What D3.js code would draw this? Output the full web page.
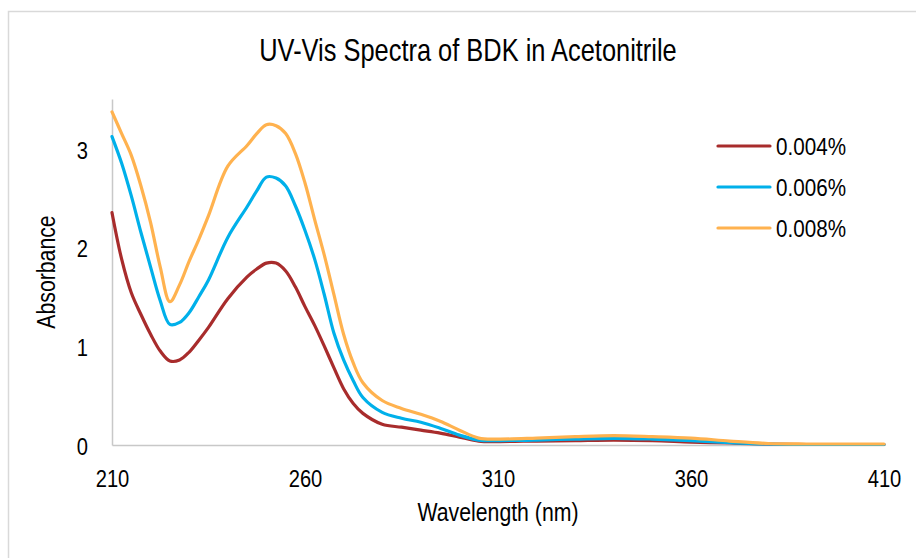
<!DOCTYPE html>
<html>
<head>
<meta charset="utf-8">
<script src="https://cdn.jsdelivr.net/npm/d3@7/dist/d3.min.js"></script>
<style>
  html, body { margin: 0; padding: 0; background: #fff; }
  svg { display: block; }
  text { font-family: "Liberation Sans", Arial, sans-serif; fill: #000; }
</style>
</head>
<body>
<svg id="chart" width="916" height="558"></svg>
<script>
const wavelengths = [210, 212.5, 215, 217.5, 220, 222.5, 225, 227.5, 230, 232.5, 235, 240, 245, 247.5, 250, 252.5, 255, 257.5, 260, 262.5, 265, 267.5, 270, 272.5, 275, 280, 285, 290, 295, 300, 305, 310, 320, 330, 340, 350, 360, 370, 380, 390, 400, 410];
const series004 = [2.35, 1.88, 1.54, 1.32, 1.12, 0.95, 0.85, 0.86, 0.94, 1.06, 1.19, 1.48, 1.70, 1.78, 1.84, 1.84, 1.76, 1.60, 1.40, 1.21, 1.00, 0.78, 0.57, 0.42, 0.32, 0.21, 0.18, 0.15, 0.12, 0.08, 0.04, 0.035, 0.04, 0.045, 0.05, 0.045, 0.03, 0.02, 0.01, 0.005, 0.005, 0.005];
const series006 = [3.12, 2.85, 2.52, 2.15, 1.80, 1.46, 1.22, 1.24, 1.34, 1.50, 1.67, 2.10, 2.41, 2.57, 2.71, 2.70, 2.62, 2.42, 2.17, 1.88, 1.52, 1.13, 0.86, 0.65, 0.48, 0.33, 0.27, 0.23, 0.17, 0.10, 0.05, 0.045, 0.05, 0.06, 0.068, 0.06, 0.045, 0.025, 0.01, 0.005, 0.005, 0.005];
const series008 = [3.37, 3.15, 2.93, 2.62, 2.25, 1.80, 1.45, 1.62, 1.86, 2.08, 2.32, 2.82, 3.03, 3.15, 3.24, 3.23, 3.15, 2.95, 2.65, 2.28, 1.92, 1.52, 1.12, 0.83, 0.63, 0.45, 0.37, 0.31, 0.24, 0.15, 0.07, 0.06, 0.07, 0.085, 0.095, 0.085, 0.07, 0.04, 0.015, 0.01, 0.01, 0.01];
const seriesNames = ["0.004%", "0.006%", "0.008%"];
const seriesColors = ["#A82C2C", "#00B0EA", "#FFB24F"];
const xTicks = [210, 260, 310, 360, 410];
const yTicks = [0, 1, 2, 3];

const svg = d3.select("#chart");
const NARROW = 0.84;

// outer chart border (top/left visible)
svg.append("rect")
  .attr("x", 8.5).attr("y", 11.5)
  .attr("width", 940).attr("height", 600)
  .attr("fill", "none").attr("stroke", "#d9d9d9").attr("stroke-width", 1.5);

const x = d3.scaleLinear().domain([210, 410]).range([112, 884]);
const y = d3.scaleLinear().domain([0, 3.5]).range([445, 99]);

// axes
const xAxis = svg.append("g").attr("transform", "translate(0,445)")
  .call(d3.axisBottom(x).tickValues(xTicks).tickSize(0).tickPadding(25).tickFormat(d3.format("d")));
xAxis.select(".domain").attr("stroke", "#c8c8c8").attr("stroke-width", 1.5);
xAxis.selectAll("text").attr("font-size", 24).style("font-family", null)
  .attr("transform", `scale(${NARROW},1)`);

const yAxis = svg.append("g").attr("transform", "translate(112,0)")
  .call(d3.axisLeft(y).tickValues(yTicks).tickSize(0).tickPadding(24).tickFormat(d3.format("d")));
yAxis.select(".domain").attr("stroke", "#c8c8c8").attr("stroke-width", 1.5);
yAxis.selectAll("text").attr("font-size", 24).style("font-family", null)
  .attr("x", -24 / NARROW).attr("dy", "0.4em")
  .attr("transform", `scale(${NARROW},1)`);

// lines
const allSeries = [series004, series006, series008];
const line = d3.line()
  .x((d, i) => x(wavelengths[i]))
  .y(d => y(d))
  .curve(d3.curveCatmullRom.alpha(0.5));

allSeries.forEach((s, k) => {
  svg.append("path")
    .datum(s)
    .attr("d", line)
    .attr("fill", "none")
    .attr("stroke", seriesColors[k])
    .attr("stroke-width", 3.2)
    .attr("stroke-linejoin", "round")
    .attr("stroke-linecap", "round");
});

// title
svg.append("text")
  .attr("transform", "translate(468,61) scale(0.82,1)")
  .attr("text-anchor", "middle")
  .attr("font-size", 31)
  .text("UV-Vis Spectra of BDK in Acetonitrile");

// axis titles
svg.append("text")
  .attr("transform", `translate(498,521) scale(0.85,1)`)
  .attr("text-anchor", "middle")
  .attr("font-size", 25)
  .text("Wavelength (nm)");

svg.append("text")
  .attr("transform", `translate(55,272) rotate(-90) scale(0.85,1)`)
  .attr("text-anchor", "middle")
  .attr("font-size", 25)
  .text("Absorbance");

// legend
const legendY = [146, 187, 228];
seriesNames.forEach((name, k) => {
  svg.append("line")
    .attr("x1", 718).attr("x2", 770)
    .attr("y1", legendY[k]).attr("y2", legendY[k])
    .attr("stroke", seriesColors[k]).attr("stroke-width", 3.2)
    .attr("stroke-linecap", "round");
  svg.append("text")
    .attr("transform", `translate(776,${legendY[k] + 9}) scale(0.86,1)`)
    .attr("font-size", 24)
    .text(name);
});
</script>
</body>
</html>
